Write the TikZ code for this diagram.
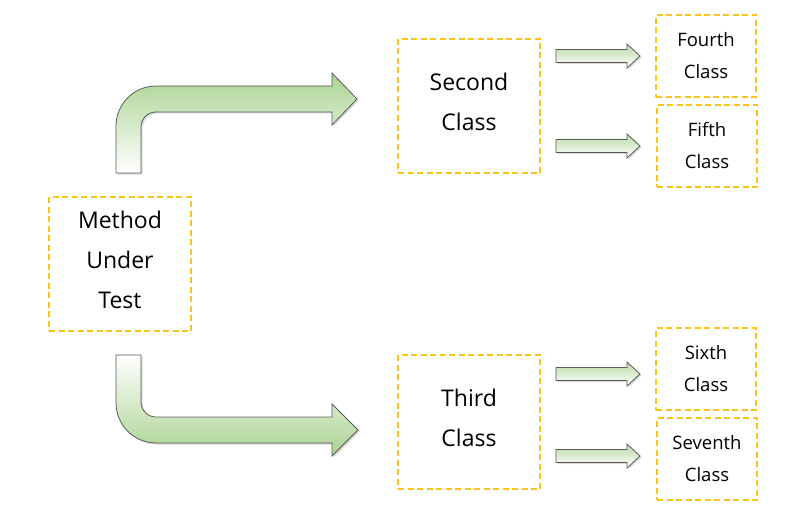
\documentclass[tikz,border=0pt]{standalone}
\usepackage{fontspec}
\setmainfont{Open Sans}
\usetikzlibrary{shadows}
\definecolor{boxline}{HTML}{FAC41C}
\definecolor{arrowgreen}{HTML}{A9D390}
\definecolor{arrowline}{HTML}{5A5A5A}
\tikzset{
  classbox/.style={draw=boxline, line width=2.8pt, dash pattern=on 6pt off 3.5pt, align=center, inner sep=0pt},
  bigbox/.style={classbox, minimum width=142, minimum height=134, text depth=9pt, font=\fontsize{23}{40}\selectfont},
  smallbox/.style={classbox, minimum width=100, minimum height=82, font=\fontsize{18.5}{32}\selectfont},
  blockarrow/.style={draw=arrowline, line width=0.8pt, drop shadow={opacity=0.3, shadow xshift=1.5pt, shadow yshift=-1.5pt}},
}
\begin{document}
\begin{tikzpicture}[x=1pt, y=-1pt]
\useasboundingbox (0,0) rectangle (786,532);
% boxes
\node[bigbox] (mut) at (120,264) {Method\\Under\\Test};
\node[bigbox] (second) at (469,106) {Second\\Class};
\node[bigbox] (third) at (469,422) {Third\\Class};
\node[smallbox] (fourth) at (706,56) {Fourth\\Class};
\node[smallbox] (fifth) at (707,146) {Fifth\\Class};
\node[smallbox] (sixth) at (706,369) {Sixth\\Class};
\node[smallbox] (seventh) at (707,459) {Seventh\\Class};
% bent arrows
\draw[blockarrow, top color=arrowgreen, bottom color=white] (116,173) -- (116,126) .. controls (116,104) and (134,86) .. (156,86) -- (332,86) -- (332,73) -- (357,99) -- (332,125) -- (332,112) -- (156,112) .. controls (147.7,112) and (141,118.7) .. (141,127) -- (141,173) -- cycle;
\draw[blockarrow, top color=white, bottom color=arrowgreen] (116,355) -- (116,403) .. controls (116,425) and (134,443) .. (156,443) -- (332,443) -- (332,456) -- (358,430) -- (332,404) -- (332,417) -- (156,417) .. controls (147.7,417) and (141,410.3) .. (141,402) -- (141,355) -- cycle;
% small arrows
\foreach \y in {56,146,374,456}
  \draw[blockarrow, top color=arrowgreen!80, bottom color=white] (556,\y-6.5) -- (627,\y-6.5) -- (627,\y-12) -- (640,\y) -- (627,\y+12) -- (627,\y+6.5) -- (556,\y+6.5) -- cycle;
\end{tikzpicture}
\end{document}
